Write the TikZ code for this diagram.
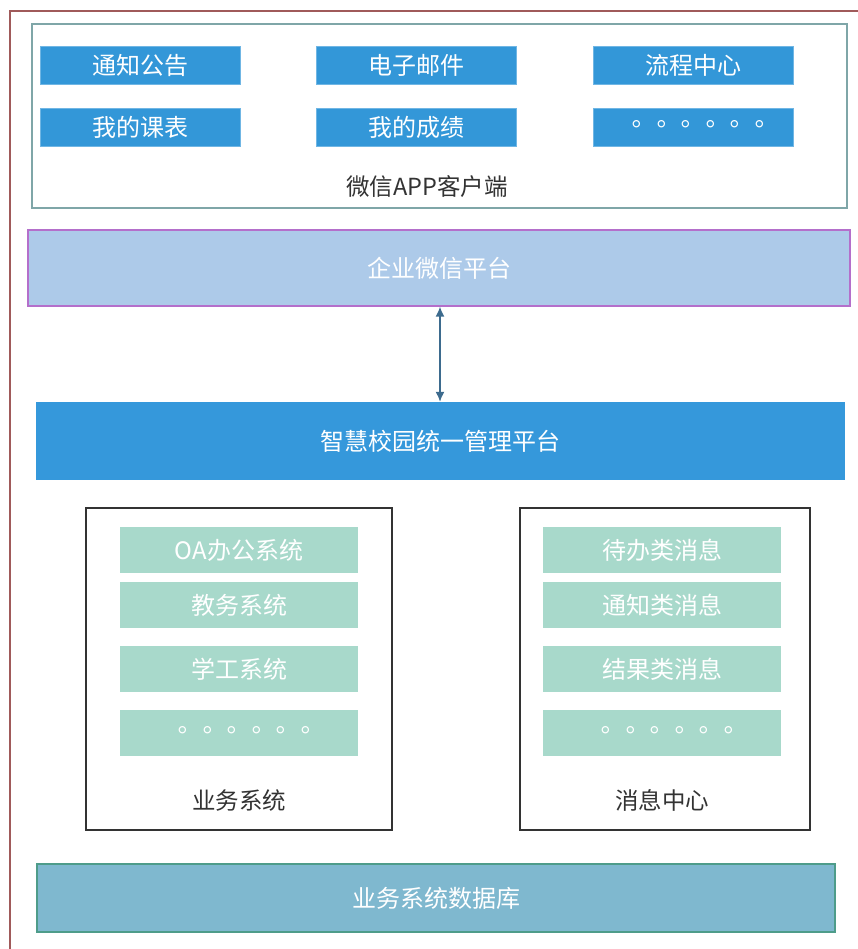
\documentclass[tikz,border=0pt]{standalone}
\usepackage{fontspec}
\usetikzlibrary{arrows.meta}
\setmainfont{Noto Sans CJK SC}
\newfontfamily\cjktc{Noto Sans CJK TC}
\definecolor{frame}{HTML}{A05A5A}
\definecolor{clientline}{HTML}{7FA6A8}
\definecolor{btnblue}{HTML}{3397D8}
\definecolor{qyfill}{HTML}{ADCAE9}
\definecolor{qyline}{HTML}{B46FCB}
\definecolor{mgmt}{HTML}{3598DB}
\definecolor{green}{HTML}{A8D9CB}
\definecolor{dbfill}{HTML}{7FB8CF}
\definecolor{dbline}{HTML}{4E9C8A}
\definecolor{arrowc}{HTML}{3D6B8E}
\tikzset{
  btn/.style={fill=btnblue, draw=btnblue!70!white, line width=0.8pt, text=white, font=\fontsize{24}{26}\selectfont},
  item/.style={fill=green, draw=none, text=white, font=\fontsize{24}{26}\selectfont},
  lbl/.style={text=black!80, font=\fontsize{23.5}{26}\selectfont},
  dots/.style={font=\cjktc\fontsize{24.5}{26}\selectfont, text=white},
  bigtext/.style={text=white, font=\fontsize{24}{26}\selectfont}
}
\begin{document}
\begin{tikzpicture}[x=1pt,y=-1pt]
\useasboundingbox (0,0) rectangle (857,949);
% outer frame
\draw[frame, line width=1.2pt] (870,11) -- (10,11) -- (10,960);
% client box
\draw[clientline, line width=1.2pt] (32,24) rectangle (847,208);
\node[btn, minimum width=200pt, minimum height=38pt] (b1) at (140,65) {通知公告};
\node[btn, minimum width=200pt, minimum height=38pt] (b2) at (416.5,65) {电子邮件};
\node[btn, minimum width=200pt, minimum height=38pt] (b3) at (693,65) {流程中心};
\node[btn, minimum width=200pt, minimum height=38pt] (b4) at (140,127) {我的课表};
\node[btn, minimum width=200pt, minimum height=38pt] (b5) at (416.5,127) {我的成绩};
\node[btn, minimum width=200pt, minimum height=38pt, dots] (b6) at (693,127) {\hspace*{10pt}。。。。。。};
\node[lbl] (clientlbl) at (427,187) {微信APP客户端};
% enterprise wechat
\node[fill=qyfill, draw=qyline, line width=1.2pt, minimum width=822pt, minimum height=76pt, bigtext] (qy) at (439,268) {企业微信平台};
% management platform
\node[fill=mgmt, draw=none, minimum width=809pt, minimum height=78pt, bigtext] (mg) at (440.5,441) {智慧校园统一管理平台};
\draw[arrowc, line width=1.5pt, {Latex[length=10pt,width=9pt]}-{Latex[length=10pt,width=9pt]}] (qy.south -| 440,0) -- (mg.north -| 440,0);
% left box
\draw[black!80, line width=1.3pt] (86,508) rectangle (392,830);
\node[item, minimum width=238pt, minimum height=46pt] (l1) at (239,550) {OA办公系统};
\node[item, minimum width=238pt, minimum height=46pt] (l2) at (239,605) {教务系统};
\node[item, minimum width=238pt, minimum height=46pt] (l3) at (239,669) {学工系统};
\node[item, minimum width=238pt, minimum height=46pt, dots] (l4) at (239,733) {\hspace*{10pt}。。。。。。};
\node[lbl] (leftlbl) at (239,800) {业务系统};
% right box
\draw[black!80, line width=1.3pt] (520,508) rectangle (810,830);
\node[item, minimum width=238pt, minimum height=46pt] (r1) at (662,550) {待办类消息};
\node[item, minimum width=238pt, minimum height=46pt] (r2) at (662,605) {通知类消息};
\node[item, minimum width=238pt, minimum height=46pt] (r3) at (662,669) {结果类消息};
\node[item, minimum width=238pt, minimum height=46pt, dots] (r4) at (662,733) {\hspace*{10pt}。。。。。。};
\node[lbl] (rightlbl) at (662,800) {消息中心};
% database
\node[fill=dbfill, draw=dbline, line width=1.3pt, minimum width=798pt, minimum height=68pt, bigtext] (db) at (436,898) {业务系统数据库};
\end{tikzpicture}
\end{document}
